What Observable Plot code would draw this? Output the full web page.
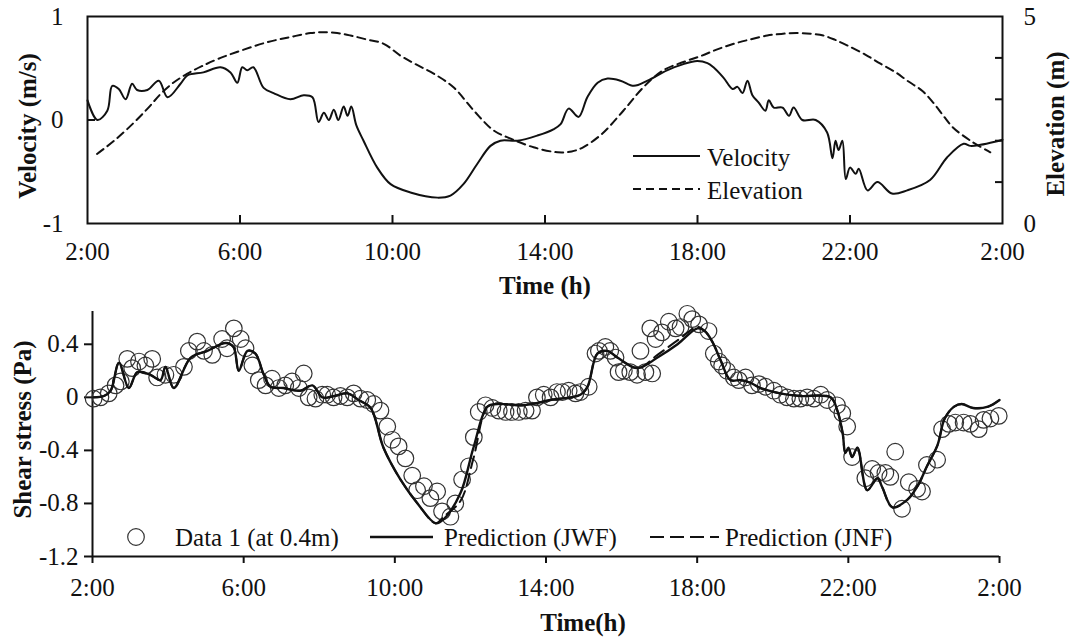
<!DOCTYPE html>
<html>
<head>
<meta charset="utf-8">
<script src="https://cdn.jsdelivr.net/npm/d3@7"></script>
<script src="https://cdn.jsdelivr.net/npm/@observablehq/plot@0.6"></script>
<style>
  body { margin: 0; background: #fff; }
  #chart { width: 1070px; height: 637px; font-family: "Liberation Serif", "Times New Roman", serif; }
  #chart svg { display: block; }
</style>
</head>
<body>
<div id="chart"></div>
<script>
// Tidal velocity (m/s) over one day, hours from 2:00 to 2:00 next day
const velocityHours = [2.0,2.26,2.52,2.65,2.82,3.0,3.17,3.3,3.57,3.87, 4.1,4.44,4.62,5.04,5.49,5.75,5.93,6.06,6.19,6.35, 6.62,6.88,7.32,7.67,7.9,8.06,8.2,8.33,8.46,8.58, 8.72,8.82,8.92,9.05,9.24,9.6,9.95,10.47,11.18,11.52, 11.86,12.23,12.57,12.83,13.28,13.8,14.22,14.41,14.62,14.88, 15.11,15.38,15.64,15.98,16.33,16.69,17.2,17.63,17.99,18.26, 18.42,18.68,18.92,19.05,19.18,19.31,19.44,19.6,19.78,19.87, 20.0,20.23,20.4,20.52,20.75,21.1,21.4,21.54,21.62,21.7, 21.8,21.89,22.0,22.15,22.23,22.46,22.72,23.1,23.5,24.1, 24.55,24.98,25.16,25.42,25.8,26.0];
const velocityMs = [0.19,0.0,0.09,0.33,0.30,0.20,0.35,0.29,0.29,0.38, 0.22,0.35,0.43,0.46,0.51,0.46,0.36,0.51,0.48,0.51, 0.31,0.26,0.20,0.24,0.22,-0.02,0.07,0.0,0.10,0.0, 0.13,0.04,0.13,-0.05,-0.20,-0.46,-0.62,-0.70,-0.75,-0.73, -0.62,-0.42,-0.25,-0.20,-0.20,-0.15,-0.09,-0.04,0.11,0.03, 0.22,0.36,0.40,0.38,0.33,0.38,0.48,0.54,0.57,0.55, 0.51,0.41,0.30,0.32,0.26,0.38,0.24,0.17,0.09,0.19, 0.12,0.12,0.04,0.12,0.0,0.0,-0.12,-0.37,-0.20,-0.29, -0.20,-0.57,-0.46,-0.52,-0.47,-0.68,-0.60,-0.71,-0.68,-0.58, -0.36,-0.23,-0.25,-0.24,-0.21,-0.19];

// Water surface elevation (m)
const elevationHours = [2.25,2.7,3.2,3.6,3.92,4.25,4.62,5.0,5.49,6.1, 6.72,7.3,7.85,8.2,8.55,8.9,9.3,9.77,10.2,10.6, 11.08,11.6,12.13,12.65,13.1,13.7,14.33,14.7,15.0,15.5, 16.06,16.58,17.1,17.63,18.1,18.5,18.95,19.4,19.83,20.2, 20.6,21.0,21.3,21.6,21.93,22.4,22.8,23.2,23.5,23.9, 24.2,24.45,24.7,25.16,25.68];
const elevationM = [1.68,2.0,2.42,2.8,3.13,3.4,3.62,3.8,4.0,4.2, 4.38,4.5,4.6,4.62,4.6,4.54,4.45,4.34,4.06,3.85, 3.62,3.29,2.73,2.25,2.05,1.84,1.72,1.74,1.84,2.17, 2.73,3.29,3.7,3.9,4.05,4.2,4.34,4.45,4.54,4.58, 4.6,4.58,4.54,4.44,4.3,4.08,3.86,3.65,3.45,3.2, 2.9,2.6,2.32,2.0,1.72];

// Bed shear stress predictions (Pa)
const predictionHours = [2.03,2.3,2.48,2.7,2.96,3.19,3.53,3.8,3.93,4.15, 4.6,5.04,5.52,5.73,5.87,6.1,6.31,6.52,6.71,7.05, 7.5,7.82,8.08,8.4,8.75,9.04,9.36,9.7,10.15,10.6, 11.08,11.29,11.74,12.08,12.45,12.72,13.4,14.12,14.91,15.1, 15.36,15.63,15.89,16.42,16.95,17.48,18.01,18.2,18.4,18.62, 18.88,19.15,19.41,19.68,20.2,20.73,21.53,21.71,21.85,21.92, 22.0,22.1,22.24,22.5,22.77,22.9,23.17,23.57,23.85,24.08, 24.36,24.55,24.8,25.0,25.3,25.7,26.0];
const predictionJWF = [0.0,0.01,0.05,0.26,0.07,0.19,0.17,0.13,0.23,0.07, 0.3,0.35,0.41,0.38,0.2,0.35,0.33,0.18,0.08,0.07, 0.05,0.09,0.0,0.01,0.03,-0.02,-0.08,-0.38,-0.62,-0.8, -0.95,-0.92,-0.72,-0.38,-0.07,-0.05,-0.06,-0.02,0.02,0.08, 0.33,0.35,0.3,0.22,0.3,0.4,0.52,0.5,0.42,0.28, 0.13,0.13,0.11,0.07,0.03,0.01,0.0,-0.1,-0.27,-0.42, -0.38,-0.45,-0.38,-0.7,-0.61,-0.68,-0.83,-0.77,-0.66,-0.52, -0.36,-0.16,-0.07,-0.05,-0.08,-0.07,-0.02];
const predictionJNF = [0.0,0.01,0.05,0.26,0.07,0.19,0.17,0.13,0.23,0.07, 0.3,0.35,0.41,0.38,0.2,0.35,0.33,0.18,0.08,0.07, 0.05,0.09,0.0,0.01,0.03,-0.02,-0.08,-0.38,-0.62,-0.8, -0.95,-0.9,-0.78,-0.46,-0.07,-0.05,-0.06,-0.02,0.02,0.08, 0.33,0.35,0.3,0.22,0.32,0.43,0.53,0.5,0.42,0.28, 0.13,0.13,0.11,0.07,0.03,0.01,0.0,-0.1,-0.27,-0.42, -0.38,-0.45,-0.38,-0.7,-0.61,-0.68,-0.83,-0.77,-0.66,-0.52, -0.36,-0.16,-0.07,-0.05,-0.08,-0.07,-0.02];

// Measured shear stress, Data 1 (at 0.4 m above bed)
const dataHours = [2.03,2.21,2.43,2.61,2.75,2.92,3.05,3.23,3.4,3.58, 3.71,3.93,4.15,4.42,4.55,4.77,4.95,5.17,5.43,5.56, 5.74,5.92,6.05,6.23,6.4,6.58,6.75,6.93,7.1,7.28, 7.46,7.59,7.72,7.9,8.08,8.21,8.38,8.56,8.74,8.91, 9.09,9.27,9.44,9.62,9.8,9.93,10.1,10.28,10.46,10.59, 10.77,10.94,11.12,11.25,11.47,11.6,11.78,11.96,12.09,12.22, 12.4,12.58,12.75,12.93,13.1,13.28,13.46,13.63,13.76,13.94, 14.12,14.29,14.43,14.6,14.78,14.91,15.13,15.31,15.4,15.57, 15.7,15.84,15.92,16.06,16.23,16.41,16.5,16.63,16.76,16.81, 16.9,17.07,17.25,17.43,17.56,17.74,17.87,18.05,18.3,18.44, 18.57,18.66,18.79,18.97,19.1,19.28,19.45,19.63,19.81,20.03, 20.2,20.38,20.56,20.73,20.91,21.09,21.27,21.44,21.7,21.84, 21.97,22.1,22.45,22.63,22.8,22.98,23.11,23.24,23.42,23.6, 23.82,23.95,24.08,24.35,24.48,24.66,24.83,25.05,25.23,25.45, 25.58,25.76,25.98];
const dataPa = [-0.01,0.0,0.03,0.09,0.12,0.29,0.22,0.27,0.24,0.29, 0.15,0.17,0.17,0.23,0.35,0.42,0.35,0.32,0.44,0.37, 0.52,0.44,0.37,0.24,0.13,0.09,0.14,0.07,0.09,0.12, 0.07,0.18,0.0,-0.01,0.02,0.02,0.0,0.01,0.0,0.03, -0.01,-0.02,-0.05,-0.1,-0.22,-0.32,-0.37,-0.46,-0.59,-0.7, -0.67,-0.76,-0.71,-0.86,-0.9,-0.8,-0.62,-0.52,-0.3,-0.11, -0.06,-0.08,-0.1,-0.11,-0.11,-0.11,-0.1,-0.1,0.0,0.02, 0.0,0.04,0.04,0.05,0.03,0.04,0.08,0.33,0.35,0.38, 0.35,0.3,0.19,0.2,0.19,0.17,0.35,0.19,0.52,0.18, 0.44,0.49,0.57,0.52,0.53,0.63,0.59,0.55,0.5,0.33, 0.27,0.24,0.2,0.15,0.13,0.15,0.09,0.1,0.08,0.05, 0.02,0.0,-0.01,-0.01,0.0,-0.01,0.02,-0.02,-0.06,-0.12, -0.22,-0.45,-0.61,-0.54,-0.57,-0.57,-0.6,-0.41,-0.84,-0.64, -0.69,-0.71,-0.51,-0.47,-0.24,-0.2,-0.19,-0.19,-0.2,-0.24, -0.17,-0.16,-0.14];

// Axis ticks
const hourTicks = [2, 6, 10, 14, 18, 22, 26];
const velocityTicks = [-1, 0, 1];
const elevationTicks = [0, 1, 2, 3, 4, 5];
const elevationLabels = [0, 5];
const stressTicks = [-1.2, -0.8, -0.4, 0, 0.4];

const FONT = '"Liberation Serif", "Times New Roman", serif';
const INK = "#111";
const fmtHour = h => `${h % 24}:00`;
const fmtNum = d => (d === 0 ? "0" : String(d));   // plain hyphen for negatives
// Elevation 0–5 m shares the velocity frame (-1..1 m/s)
const elevToVel = e => e / 2.5 - 1;

const velocity = d3.zip(velocityHours, velocityMs).map(([t, v]) => ({t, v}));
const elevation = d3.zip(elevationHours, elevationM).map(([t, e]) => ({t, e}));
const jwf = d3.zip(predictionHours, predictionJWF).map(([t, s]) => ({t, s}));
const jnf = d3.zip(predictionHours, predictionJNF).map(([t, s]) => ({t, s}));
const measured = d3.zip(dataHours, dataPa).map(([t, s]) => ({t, s}));

const chart = document.getElementById("chart");
const title = {fontWeight: "bold", fontSize: 25, textAnchor: "middle", lineAnchor: "middle"};

// ---- Upper panel: velocity and elevation ----
const upper = Plot.plot({
  width: 1070, height: 295,
  marginLeft: 87, marginRight: 68, marginTop: 16, marginBottom: 72,
  style: {fontFamily: FONT, fontSize: "25px", color: INK, background: "white", overflow: "visible"},
  x: {domain: [2, 26], label: null},
  y: {domain: [-1, 1], label: null},
  marks: [
    Plot.frame({stroke: INK, strokeWidth: 2}),
    Plot.axisX({ticks: hourTicks, tickFormat: fmtHour, tickSize: 0, tickPadding: 19, fontSize: 25, label: null}),
    Plot.axisX({ticks: hourTicks.slice(1, -1), tickSize: -8, tickFormat: () => "", strokeWidth: 2, label: null}),
    Plot.axisY({ticks: velocityTicks, tickFormat: fmtNum, tickSize: 0, tickPadding: 24, fontSize: 25, label: null}),
    Plot.axisY({ticks: [0], tickSize: -8, tickFormat: () => "", strokeWidth: 2, label: null}),
    Plot.axisY({anchor: "right", ticks: elevationLabels.map(elevToVel), tickFormat: v => String(Math.round((v + 1) * 2.5)), tickSize: 0, tickPadding: 21, fontSize: 25, label: null}),
    Plot.axisY({anchor: "right", ticks: elevationTicks.slice(1, -1).map(elevToVel), tickSize: -8, tickFormat: () => "", strokeWidth: 2, label: null}),
    Plot.line(elevation, {x: "t", y: d => elevToVel(d.e), stroke: INK, strokeWidth: 2, strokeDasharray: "8,5", curve: "catmull-rom"}),
    Plot.line(velocity, {x: "t", y: "v", stroke: INK, strokeWidth: 2, curve: "catmull-rom"}),
    Plot.text(["Velocity (m/s)"], {text: d => d, frameAnchor: "left", dx: -60, dy: 6, rotate: -90, ...title}),
    Plot.text(["Elevation (m)"], {text: d => d, frameAnchor: "right", dx: 53, dy: 4, rotate: -90, ...title}),
    Plot.text(["Time (h)"], {text: d => d, frameAnchor: "bottom", dy: 62, ...title})
  ]
});
chart.appendChild(upper);

// ---- Lower panel: shear stress ----
const lower = Plot.plot({
  width: 1070, height: 342,
  marginLeft: 92, marginRight: 71, marginTop: 9, marginBottom: 81,
  style: {fontFamily: FONT, fontSize: "25px", color: INK, background: "white", overflow: "visible"},
  x: {domain: [2, 26], label: null},
  y: {domain: [-1.2, 0.7], label: null},
  marks: [
    Plot.ruleX([2], {y1: -1.2, y2: 0.7, insetBottom: -7, stroke: INK, strokeWidth: 2}),
    Plot.ruleY([-1.2], {x1: 2, x2: 26, stroke: INK, strokeWidth: 2}),
    Plot.axisX({ticks: hourTicks, tickFormat: () => "", tickSize: 7, strokeWidth: 2, label: null}),
    Plot.axisX({ticks: hourTicks, tickFormat: fmtHour, tickSize: 0, tickPadding: 22, fontSize: 25, label: null}),
    Plot.axisY({ticks: stressTicks, tickFormat: fmtNum, tickSize: 8, tickPadding: 6, fontSize: 25, strokeWidth: 2, label: null}),
    Plot.dot(measured, {x: "t", y: "s", r: 8.3, stroke: "#333", strokeWidth: 1.2, fill: "none"}),
    Plot.line(jnf, {x: "t", y: "s", stroke: INK, strokeWidth: 2, strokeDasharray: "12,6", curve: "catmull-rom"}),
    Plot.line(jwf, {x: "t", y: "s", stroke: INK, strokeWidth: 2.4, curve: "catmull-rom"}),
    Plot.text(["Shear stress (Pa)"], {text: d => d, frameAnchor: "left", dx: -70, dy: -1, rotate: -90, ...title}),
    Plot.text(["Time(h)"], {text: d => d, frameAnchor: "bottom", dx: 37, dy: 66, ...title})
  ]
});
chart.appendChild(lower);

// ---- Legends ----
function legendLine(svg, x1, x2, y, dash, width) {
  d3.select(svg).append("line")
    .attr("x1", x1).attr("x2", x2).attr("y1", y).attr("y2", y)
    .attr("stroke", INK).attr("stroke-width", width)
    .attr("stroke-dasharray", dash);
}
function legendText(svg, x, y, label) {
  d3.select(svg).append("text")
    .attr("x", x).attr("y", y).attr("dy", "0.35em")
    .attr("text-anchor", "start")
    .attr("font-family", FONT).attr("font-size", 25).attr("fill", INK)
    .text(label);
}

legendLine(upper, 633, 700, 156, null, 2);
legendText(upper, 707, 157, "Velocity");
legendLine(upper, 633, 700, 189, "8,5", 2);
legendText(upper, 707, 190, "Elevation");

const ly = 242;
d3.select(lower).append("circle")
  .attr("cx", 136).attr("cy", ly).attr("r", 8.3)
  .attr("fill", "none").attr("stroke", "#333").attr("stroke-width", 1.2);
legendText(lower, 175, ly, "Data 1 (at 0.4m)");
legendLine(lower, 370, 433, ly, null, 2.4);
legendText(lower, 444, ly, "Prediction (JWF)");
legendLine(lower, 650, 719, ly, "14,6", 2);
legendText(lower, 725, ly, "Prediction (JNF)");
</script>
</body>
</html>
